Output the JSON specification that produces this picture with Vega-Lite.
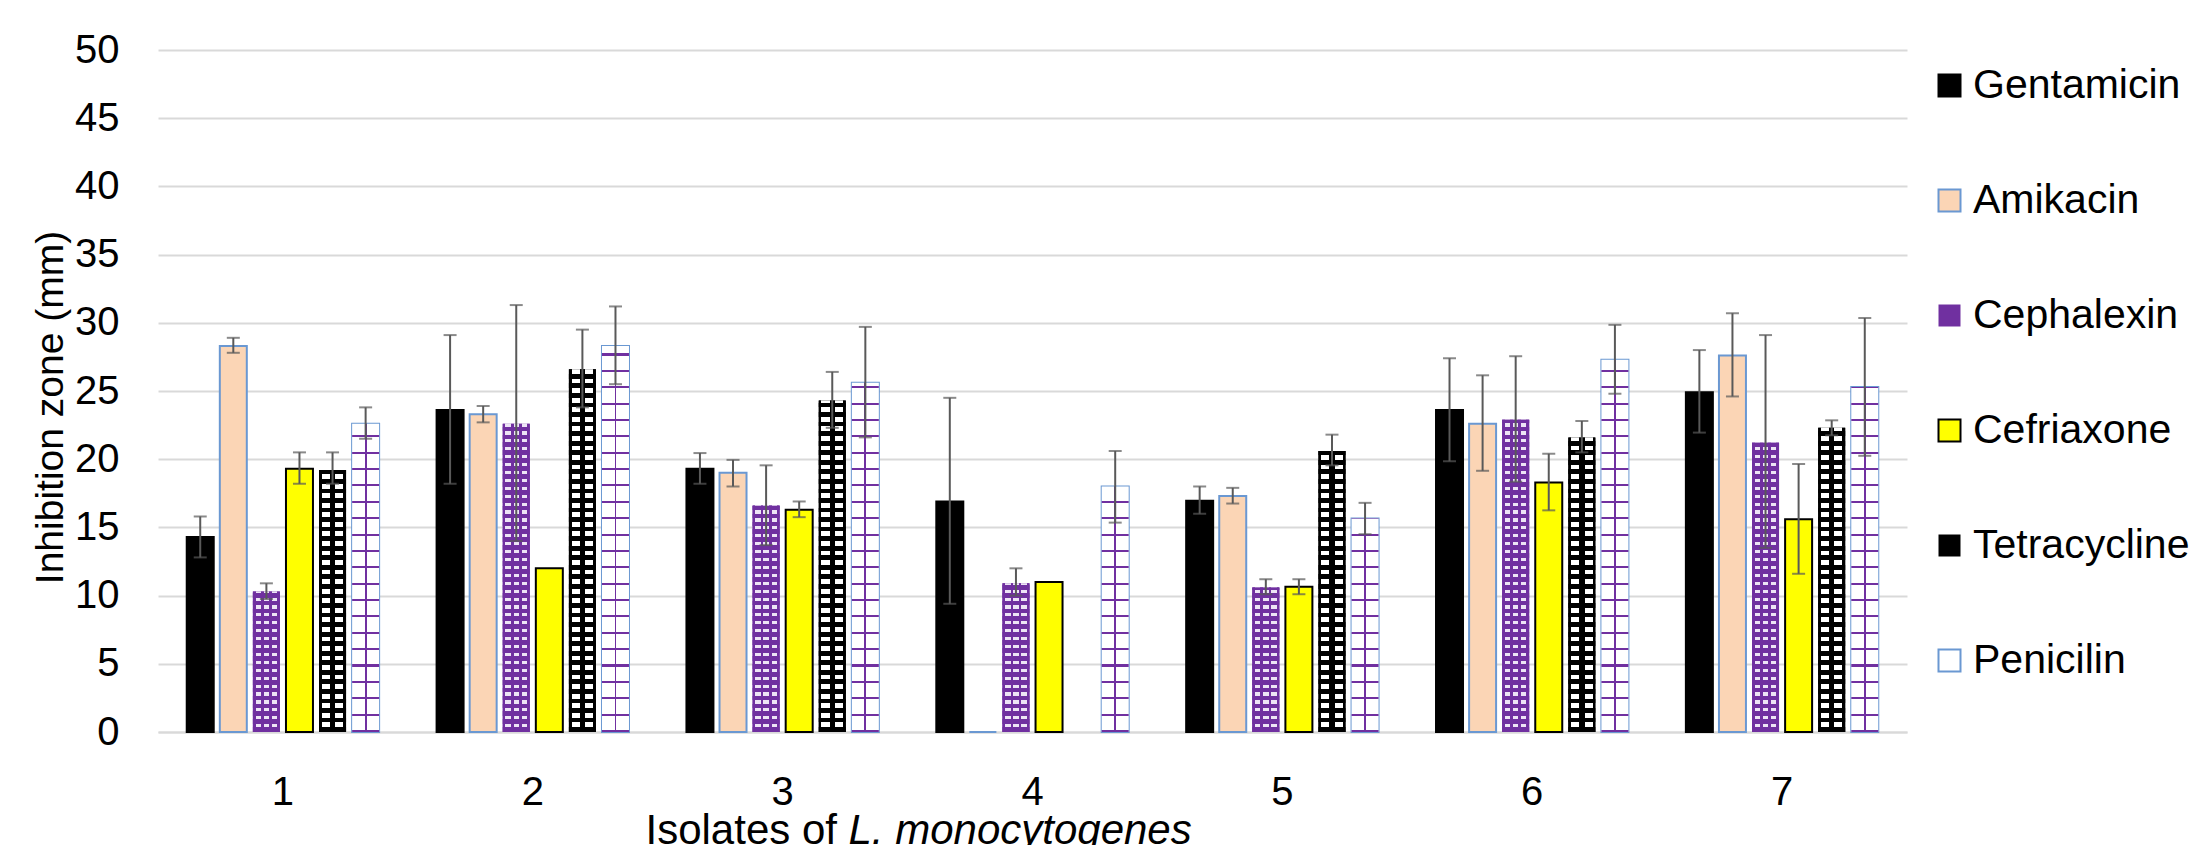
{
"$schema":"https://vega.github.io/schema/vega-lite/v6.json",
"width":1749,"height":682,
"autosize":{"type":"none"},
"padding":{"left":158,"top":50,"right":292,"bottom":113},
"background":"white",
"params":[
{"name":"cephX","value":[{"offset":0,"color":"#7030A0"},{"offset":0.1,"color":"#7030A0"},{"offset":0.1,"color":"#EDE4F5"},{"offset":0.3,"color":"#EDE4F5"},{"offset":0.3,"color":"#7030A0"},{"offset":0.4,"color":"#7030A0"},{"offset":0.4,"color":"#EDE4F5"},{"offset":0.6,"color":"#EDE4F5"},{"offset":0.6,"color":"#7030A0"},{"offset":0.7,"color":"#7030A0"},{"offset":0.7,"color":"#EDE4F5"},{"offset":0.9,"color":"#EDE4F5"},{"offset":0.9,"color":"#7030A0"},{"offset":1,"color":"#7030A0"}]},
{"name":"tetX","value":[{"offset":0,"color":"#000000"},{"offset":0.1,"color":"#000000"},{"offset":0.1,"color":"#FFFFFF"},{"offset":0.4,"color":"#FFFFFF"},{"offset":0.4,"color":"#000000"},{"offset":0.6,"color":"#000000"},{"offset":0.6,"color":"#FFFFFF"},{"offset":0.9,"color":"#FFFFFF"},{"offset":0.9,"color":"#000000"},{"offset":1,"color":"#000000"}]},
{"name":"penX","value":[{"offset":0,"color":"#FFFFFF"},{"offset":0.465,"color":"#FFFFFF"},{"offset":0.465,"color":"#7030A0"},{"offset":0.535,"color":"#7030A0"},{"offset":0.535,"color":"#FFFFFF"},{"offset":1,"color":"#FFFFFF"}]},
{"name":"cephStops","value":[
{"offset":0,"color":"#7030A0"},{"offset":0.015,"color":"#7030A0"},{"offset":0.015,"color":"rgba(112,48,160,0)"},{"offset":0.025,"color":"rgba(112,48,160,0)"},
{"offset":0.025,"color":"#7030A0"},{"offset":0.04,"color":"#7030A0"},{"offset":0.04,"color":"rgba(112,48,160,0)"},{"offset":0.05,"color":"rgba(112,48,160,0)"},
{"offset":0.05,"color":"#7030A0"},{"offset":0.065,"color":"#7030A0"},{"offset":0.065,"color":"rgba(112,48,160,0)"},{"offset":0.075,"color":"rgba(112,48,160,0)"},
{"offset":0.075,"color":"#7030A0"},{"offset":0.09,"color":"#7030A0"},{"offset":0.09,"color":"rgba(112,48,160,0)"},{"offset":0.1,"color":"rgba(112,48,160,0)"},
{"offset":0.1,"color":"#7030A0"},{"offset":0.115,"color":"#7030A0"},{"offset":0.115,"color":"rgba(112,48,160,0)"},{"offset":0.125,"color":"rgba(112,48,160,0)"},
{"offset":0.125,"color":"#7030A0"},{"offset":0.14,"color":"#7030A0"},{"offset":0.14,"color":"rgba(112,48,160,0)"},{"offset":0.15,"color":"rgba(112,48,160,0)"},
{"offset":0.15,"color":"#7030A0"},{"offset":0.165,"color":"#7030A0"},{"offset":0.165,"color":"rgba(112,48,160,0)"},{"offset":0.175,"color":"rgba(112,48,160,0)"},
{"offset":0.175,"color":"#7030A0"},{"offset":0.19,"color":"#7030A0"},{"offset":0.19,"color":"rgba(112,48,160,0)"},{"offset":0.2,"color":"rgba(112,48,160,0)"},
{"offset":0.2,"color":"#7030A0"},{"offset":0.215,"color":"#7030A0"},{"offset":0.215,"color":"rgba(112,48,160,0)"},{"offset":0.225,"color":"rgba(112,48,160,0)"},
{"offset":0.225,"color":"#7030A0"},{"offset":0.24,"color":"#7030A0"},{"offset":0.24,"color":"rgba(112,48,160,0)"},{"offset":0.25,"color":"rgba(112,48,160,0)"},
{"offset":0.25,"color":"#7030A0"},{"offset":0.265,"color":"#7030A0"},{"offset":0.265,"color":"rgba(112,48,160,0)"},{"offset":0.275,"color":"rgba(112,48,160,0)"},
{"offset":0.275,"color":"#7030A0"},{"offset":0.29,"color":"#7030A0"},{"offset":0.29,"color":"rgba(112,48,160,0)"},{"offset":0.3,"color":"rgba(112,48,160,0)"},
{"offset":0.3,"color":"#7030A0"},{"offset":0.315,"color":"#7030A0"},{"offset":0.315,"color":"rgba(112,48,160,0)"},{"offset":0.325,"color":"rgba(112,48,160,0)"},
{"offset":0.325,"color":"#7030A0"},{"offset":0.34,"color":"#7030A0"},{"offset":0.34,"color":"rgba(112,48,160,0)"},{"offset":0.35,"color":"rgba(112,48,160,0)"},
{"offset":0.35,"color":"#7030A0"},{"offset":0.365,"color":"#7030A0"},{"offset":0.365,"color":"rgba(112,48,160,0)"},{"offset":0.375,"color":"rgba(112,48,160,0)"},
{"offset":0.375,"color":"#7030A0"},{"offset":0.39,"color":"#7030A0"},{"offset":0.39,"color":"rgba(112,48,160,0)"},{"offset":0.4,"color":"rgba(112,48,160,0)"},
{"offset":0.4,"color":"#7030A0"},{"offset":0.415,"color":"#7030A0"},{"offset":0.415,"color":"rgba(112,48,160,0)"},{"offset":0.425,"color":"rgba(112,48,160,0)"},
{"offset":0.425,"color":"#7030A0"},{"offset":0.44,"color":"#7030A0"},{"offset":0.44,"color":"rgba(112,48,160,0)"},{"offset":0.45,"color":"rgba(112,48,160,0)"},
{"offset":0.45,"color":"#7030A0"},{"offset":0.465,"color":"#7030A0"},{"offset":0.465,"color":"rgba(112,48,160,0)"},{"offset":0.475,"color":"rgba(112,48,160,0)"},
{"offset":0.475,"color":"#7030A0"},{"offset":0.49,"color":"#7030A0"},{"offset":0.49,"color":"rgba(112,48,160,0)"},{"offset":0.5,"color":"rgba(112,48,160,0)"},
{"offset":0.5,"color":"#7030A0"},{"offset":0.515,"color":"#7030A0"},{"offset":0.515,"color":"rgba(112,48,160,0)"},{"offset":0.525,"color":"rgba(112,48,160,0)"},
{"offset":0.525,"color":"#7030A0"},{"offset":0.54,"color":"#7030A0"},{"offset":0.54,"color":"rgba(112,48,160,0)"},{"offset":0.55,"color":"rgba(112,48,160,0)"},
{"offset":0.55,"color":"#7030A0"},{"offset":0.565,"color":"#7030A0"},{"offset":0.565,"color":"rgba(112,48,160,0)"},{"offset":0.575,"color":"rgba(112,48,160,0)"},
{"offset":0.575,"color":"#7030A0"},{"offset":0.59,"color":"#7030A0"},{"offset":0.59,"color":"rgba(112,48,160,0)"},{"offset":0.6,"color":"rgba(112,48,160,0)"},
{"offset":0.6,"color":"#7030A0"},{"offset":0.615,"color":"#7030A0"},{"offset":0.615,"color":"rgba(112,48,160,0)"},{"offset":0.625,"color":"rgba(112,48,160,0)"},
{"offset":0.625,"color":"#7030A0"},{"offset":0.64,"color":"#7030A0"},{"offset":0.64,"color":"rgba(112,48,160,0)"},{"offset":0.65,"color":"rgba(112,48,160,0)"},
{"offset":0.65,"color":"#7030A0"},{"offset":0.665,"color":"#7030A0"},{"offset":0.665,"color":"rgba(112,48,160,0)"},{"offset":0.675,"color":"rgba(112,48,160,0)"},
{"offset":0.675,"color":"#7030A0"},{"offset":0.69,"color":"#7030A0"},{"offset":0.69,"color":"rgba(112,48,160,0)"},{"offset":0.7,"color":"rgba(112,48,160,0)"},
{"offset":0.7,"color":"#7030A0"},{"offset":0.715,"color":"#7030A0"},{"offset":0.715,"color":"rgba(112,48,160,0)"},{"offset":0.725,"color":"rgba(112,48,160,0)"},
{"offset":0.725,"color":"#7030A0"},{"offset":0.74,"color":"#7030A0"},{"offset":0.74,"color":"rgba(112,48,160,0)"},{"offset":0.75,"color":"rgba(112,48,160,0)"},
{"offset":0.75,"color":"#7030A0"},{"offset":0.765,"color":"#7030A0"},{"offset":0.765,"color":"rgba(112,48,160,0)"},{"offset":0.775,"color":"rgba(112,48,160,0)"},
{"offset":0.775,"color":"#7030A0"},{"offset":0.79,"color":"#7030A0"},{"offset":0.79,"color":"rgba(112,48,160,0)"},{"offset":0.8,"color":"rgba(112,48,160,0)"},
{"offset":0.8,"color":"#7030A0"},{"offset":0.815,"color":"#7030A0"},{"offset":0.815,"color":"rgba(112,48,160,0)"},{"offset":0.825,"color":"rgba(112,48,160,0)"},
{"offset":0.825,"color":"#7030A0"},{"offset":0.84,"color":"#7030A0"},{"offset":0.84,"color":"rgba(112,48,160,0)"},{"offset":0.85,"color":"rgba(112,48,160,0)"},
{"offset":0.85,"color":"#7030A0"},{"offset":0.865,"color":"#7030A0"},{"offset":0.865,"color":"rgba(112,48,160,0)"},{"offset":0.875,"color":"rgba(112,48,160,0)"},
{"offset":0.875,"color":"#7030A0"},{"offset":0.89,"color":"#7030A0"},{"offset":0.89,"color":"rgba(112,48,160,0)"},{"offset":0.9,"color":"rgba(112,48,160,0)"},
{"offset":0.9,"color":"#7030A0"},{"offset":0.915,"color":"#7030A0"},{"offset":0.915,"color":"rgba(112,48,160,0)"},{"offset":0.925,"color":"rgba(112,48,160,0)"},
{"offset":0.925,"color":"#7030A0"},{"offset":0.94,"color":"#7030A0"},{"offset":0.94,"color":"rgba(112,48,160,0)"},{"offset":0.95,"color":"rgba(112,48,160,0)"},
{"offset":0.95,"color":"#7030A0"},{"offset":0.965,"color":"#7030A0"},{"offset":0.965,"color":"rgba(112,48,160,0)"},{"offset":0.975,"color":"rgba(112,48,160,0)"},
{"offset":0.975,"color":"#7030A0"},{"offset":0.99,"color":"#7030A0"},{"offset":0.99,"color":"rgba(112,48,160,0)"},{"offset":1,"color":"rgba(112,48,160,0)"}
]},
{"name":"tetStops","value":[
{"offset":0,"color":"#000000"},{"offset":0.0125,"color":"#000000"},{"offset":0.0125,"color":"rgba(0,0,0,0)"},{"offset":0.025,"color":"rgba(0,0,0,0)"},
{"offset":0.025,"color":"#000000"},{"offset":0.0375,"color":"#000000"},{"offset":0.0375,"color":"rgba(0,0,0,0)"},{"offset":0.05,"color":"rgba(0,0,0,0)"},
{"offset":0.05,"color":"#000000"},{"offset":0.0625,"color":"#000000"},{"offset":0.0625,"color":"rgba(0,0,0,0)"},{"offset":0.075,"color":"rgba(0,0,0,0)"},
{"offset":0.075,"color":"#000000"},{"offset":0.0875,"color":"#000000"},{"offset":0.0875,"color":"rgba(0,0,0,0)"},{"offset":0.1,"color":"rgba(0,0,0,0)"},
{"offset":0.1,"color":"#000000"},{"offset":0.1125,"color":"#000000"},{"offset":0.1125,"color":"rgba(0,0,0,0)"},{"offset":0.125,"color":"rgba(0,0,0,0)"},
{"offset":0.125,"color":"#000000"},{"offset":0.1375,"color":"#000000"},{"offset":0.1375,"color":"rgba(0,0,0,0)"},{"offset":0.15,"color":"rgba(0,0,0,0)"},
{"offset":0.15,"color":"#000000"},{"offset":0.1625,"color":"#000000"},{"offset":0.1625,"color":"rgba(0,0,0,0)"},{"offset":0.175,"color":"rgba(0,0,0,0)"},
{"offset":0.175,"color":"#000000"},{"offset":0.1875,"color":"#000000"},{"offset":0.1875,"color":"rgba(0,0,0,0)"},{"offset":0.2,"color":"rgba(0,0,0,0)"},
{"offset":0.2,"color":"#000000"},{"offset":0.2125,"color":"#000000"},{"offset":0.2125,"color":"rgba(0,0,0,0)"},{"offset":0.225,"color":"rgba(0,0,0,0)"},
{"offset":0.225,"color":"#000000"},{"offset":0.2375,"color":"#000000"},{"offset":0.2375,"color":"rgba(0,0,0,0)"},{"offset":0.25,"color":"rgba(0,0,0,0)"},
{"offset":0.25,"color":"#000000"},{"offset":0.2625,"color":"#000000"},{"offset":0.2625,"color":"rgba(0,0,0,0)"},{"offset":0.275,"color":"rgba(0,0,0,0)"},
{"offset":0.275,"color":"#000000"},{"offset":0.2875,"color":"#000000"},{"offset":0.2875,"color":"rgba(0,0,0,0)"},{"offset":0.3,"color":"rgba(0,0,0,0)"},
{"offset":0.3,"color":"#000000"},{"offset":0.3125,"color":"#000000"},{"offset":0.3125,"color":"rgba(0,0,0,0)"},{"offset":0.325,"color":"rgba(0,0,0,0)"},
{"offset":0.325,"color":"#000000"},{"offset":0.3375,"color":"#000000"},{"offset":0.3375,"color":"rgba(0,0,0,0)"},{"offset":0.35,"color":"rgba(0,0,0,0)"},
{"offset":0.35,"color":"#000000"},{"offset":0.3625,"color":"#000000"},{"offset":0.3625,"color":"rgba(0,0,0,0)"},{"offset":0.375,"color":"rgba(0,0,0,0)"},
{"offset":0.375,"color":"#000000"},{"offset":0.3875,"color":"#000000"},{"offset":0.3875,"color":"rgba(0,0,0,0)"},{"offset":0.4,"color":"rgba(0,0,0,0)"},
{"offset":0.4,"color":"#000000"},{"offset":0.4125,"color":"#000000"},{"offset":0.4125,"color":"rgba(0,0,0,0)"},{"offset":0.425,"color":"rgba(0,0,0,0)"},
{"offset":0.425,"color":"#000000"},{"offset":0.4375,"color":"#000000"},{"offset":0.4375,"color":"rgba(0,0,0,0)"},{"offset":0.45,"color":"rgba(0,0,0,0)"},
{"offset":0.45,"color":"#000000"},{"offset":0.4625,"color":"#000000"},{"offset":0.4625,"color":"rgba(0,0,0,0)"},{"offset":0.475,"color":"rgba(0,0,0,0)"},
{"offset":0.475,"color":"#000000"},{"offset":0.4875,"color":"#000000"},{"offset":0.4875,"color":"rgba(0,0,0,0)"},{"offset":0.5,"color":"rgba(0,0,0,0)"},
{"offset":0.5,"color":"#000000"},{"offset":0.5125,"color":"#000000"},{"offset":0.5125,"color":"rgba(0,0,0,0)"},{"offset":0.525,"color":"rgba(0,0,0,0)"},
{"offset":0.525,"color":"#000000"},{"offset":0.5375,"color":"#000000"},{"offset":0.5375,"color":"rgba(0,0,0,0)"},{"offset":0.55,"color":"rgba(0,0,0,0)"},
{"offset":0.55,"color":"#000000"},{"offset":0.5625,"color":"#000000"},{"offset":0.5625,"color":"rgba(0,0,0,0)"},{"offset":0.575,"color":"rgba(0,0,0,0)"},
{"offset":0.575,"color":"#000000"},{"offset":0.5875,"color":"#000000"},{"offset":0.5875,"color":"rgba(0,0,0,0)"},{"offset":0.6,"color":"rgba(0,0,0,0)"},
{"offset":0.6,"color":"#000000"},{"offset":0.6125,"color":"#000000"},{"offset":0.6125,"color":"rgba(0,0,0,0)"},{"offset":0.625,"color":"rgba(0,0,0,0)"},
{"offset":0.625,"color":"#000000"},{"offset":0.6375,"color":"#000000"},{"offset":0.6375,"color":"rgba(0,0,0,0)"},{"offset":0.65,"color":"rgba(0,0,0,0)"},
{"offset":0.65,"color":"#000000"},{"offset":0.6625,"color":"#000000"},{"offset":0.6625,"color":"rgba(0,0,0,0)"},{"offset":0.675,"color":"rgba(0,0,0,0)"},
{"offset":0.675,"color":"#000000"},{"offset":0.6875,"color":"#000000"},{"offset":0.6875,"color":"rgba(0,0,0,0)"},{"offset":0.7,"color":"rgba(0,0,0,0)"},
{"offset":0.7,"color":"#000000"},{"offset":0.7125,"color":"#000000"},{"offset":0.7125,"color":"rgba(0,0,0,0)"},{"offset":0.725,"color":"rgba(0,0,0,0)"},
{"offset":0.725,"color":"#000000"},{"offset":0.7375,"color":"#000000"},{"offset":0.7375,"color":"rgba(0,0,0,0)"},{"offset":0.75,"color":"rgba(0,0,0,0)"},
{"offset":0.75,"color":"#000000"},{"offset":0.7625,"color":"#000000"},{"offset":0.7625,"color":"rgba(0,0,0,0)"},{"offset":0.775,"color":"rgba(0,0,0,0)"},
{"offset":0.775,"color":"#000000"},{"offset":0.7875,"color":"#000000"},{"offset":0.7875,"color":"rgba(0,0,0,0)"},{"offset":0.8,"color":"rgba(0,0,0,0)"},
{"offset":0.8,"color":"#000000"},{"offset":0.8125,"color":"#000000"},{"offset":0.8125,"color":"rgba(0,0,0,0)"},{"offset":0.825,"color":"rgba(0,0,0,0)"},
{"offset":0.825,"color":"#000000"},{"offset":0.8375,"color":"#000000"},{"offset":0.8375,"color":"rgba(0,0,0,0)"},{"offset":0.85,"color":"rgba(0,0,0,0)"},
{"offset":0.85,"color":"#000000"},{"offset":0.8625,"color":"#000000"},{"offset":0.8625,"color":"rgba(0,0,0,0)"},{"offset":0.875,"color":"rgba(0,0,0,0)"},
{"offset":0.875,"color":"#000000"},{"offset":0.8875,"color":"#000000"},{"offset":0.8875,"color":"rgba(0,0,0,0)"},{"offset":0.9,"color":"rgba(0,0,0,0)"},
{"offset":0.9,"color":"#000000"},{"offset":0.9125,"color":"#000000"},{"offset":0.9125,"color":"rgba(0,0,0,0)"},{"offset":0.925,"color":"rgba(0,0,0,0)"},
{"offset":0.925,"color":"#000000"},{"offset":0.9375,"color":"#000000"},{"offset":0.9375,"color":"rgba(0,0,0,0)"},{"offset":0.95,"color":"rgba(0,0,0,0)"},
{"offset":0.95,"color":"#000000"},{"offset":0.9625,"color":"#000000"},{"offset":0.9625,"color":"rgba(0,0,0,0)"},{"offset":0.975,"color":"rgba(0,0,0,0)"},
{"offset":0.975,"color":"#000000"},{"offset":0.9875,"color":"#000000"},{"offset":0.9875,"color":"rgba(0,0,0,0)"},{"offset":1,"color":"rgba(0,0,0,0)"}
]},
{"name":"penStops","value":[
{"offset":0,"color":"#7030A0"},{"offset":0.005,"color":"#7030A0"},{"offset":0.005,"color":"rgba(112,48,160,0)"},{"offset":0.04,"color":"rgba(112,48,160,0)"},
{"offset":0.04,"color":"#7030A0"},{"offset":0.045,"color":"#7030A0"},{"offset":0.045,"color":"rgba(112,48,160,0)"},{"offset":0.08,"color":"rgba(112,48,160,0)"},
{"offset":0.08,"color":"#7030A0"},{"offset":0.085,"color":"#7030A0"},{"offset":0.085,"color":"rgba(112,48,160,0)"},{"offset":0.12,"color":"rgba(112,48,160,0)"},
{"offset":0.12,"color":"#7030A0"},{"offset":0.125,"color":"#7030A0"},{"offset":0.125,"color":"rgba(112,48,160,0)"},{"offset":0.16,"color":"rgba(112,48,160,0)"},
{"offset":0.16,"color":"#7030A0"},{"offset":0.165,"color":"#7030A0"},{"offset":0.165,"color":"rgba(112,48,160,0)"},{"offset":0.2,"color":"rgba(112,48,160,0)"},
{"offset":0.2,"color":"#7030A0"},{"offset":0.205,"color":"#7030A0"},{"offset":0.205,"color":"rgba(112,48,160,0)"},{"offset":0.24,"color":"rgba(112,48,160,0)"},
{"offset":0.24,"color":"#7030A0"},{"offset":0.245,"color":"#7030A0"},{"offset":0.245,"color":"rgba(112,48,160,0)"},{"offset":0.28,"color":"rgba(112,48,160,0)"},
{"offset":0.28,"color":"#7030A0"},{"offset":0.285,"color":"#7030A0"},{"offset":0.285,"color":"rgba(112,48,160,0)"},{"offset":0.32,"color":"rgba(112,48,160,0)"},
{"offset":0.32,"color":"#7030A0"},{"offset":0.325,"color":"#7030A0"},{"offset":0.325,"color":"rgba(112,48,160,0)"},{"offset":0.36,"color":"rgba(112,48,160,0)"},
{"offset":0.36,"color":"#7030A0"},{"offset":0.365,"color":"#7030A0"},{"offset":0.365,"color":"rgba(112,48,160,0)"},{"offset":0.4,"color":"rgba(112,48,160,0)"},
{"offset":0.4,"color":"#7030A0"},{"offset":0.405,"color":"#7030A0"},{"offset":0.405,"color":"rgba(112,48,160,0)"},{"offset":0.44,"color":"rgba(112,48,160,0)"},
{"offset":0.44,"color":"#7030A0"},{"offset":0.445,"color":"#7030A0"},{"offset":0.445,"color":"rgba(112,48,160,0)"},{"offset":0.48,"color":"rgba(112,48,160,0)"},
{"offset":0.48,"color":"#7030A0"},{"offset":0.485,"color":"#7030A0"},{"offset":0.485,"color":"rgba(112,48,160,0)"},{"offset":0.52,"color":"rgba(112,48,160,0)"},
{"offset":0.52,"color":"#7030A0"},{"offset":0.525,"color":"#7030A0"},{"offset":0.525,"color":"rgba(112,48,160,0)"},{"offset":0.56,"color":"rgba(112,48,160,0)"},
{"offset":0.56,"color":"#7030A0"},{"offset":0.565,"color":"#7030A0"},{"offset":0.565,"color":"rgba(112,48,160,0)"},{"offset":0.6,"color":"rgba(112,48,160,0)"},
{"offset":0.6,"color":"#7030A0"},{"offset":0.605,"color":"#7030A0"},{"offset":0.605,"color":"rgba(112,48,160,0)"},{"offset":0.64,"color":"rgba(112,48,160,0)"},
{"offset":0.64,"color":"#7030A0"},{"offset":0.645,"color":"#7030A0"},{"offset":0.645,"color":"rgba(112,48,160,0)"},{"offset":0.68,"color":"rgba(112,48,160,0)"},
{"offset":0.68,"color":"#7030A0"},{"offset":0.685,"color":"#7030A0"},{"offset":0.685,"color":"rgba(112,48,160,0)"},{"offset":0.72,"color":"rgba(112,48,160,0)"},
{"offset":0.72,"color":"#7030A0"},{"offset":0.725,"color":"#7030A0"},{"offset":0.725,"color":"rgba(112,48,160,0)"},{"offset":0.76,"color":"rgba(112,48,160,0)"},
{"offset":0.76,"color":"#7030A0"},{"offset":0.765,"color":"#7030A0"},{"offset":0.765,"color":"rgba(112,48,160,0)"},{"offset":0.8,"color":"rgba(112,48,160,0)"},
{"offset":0.8,"color":"#7030A0"},{"offset":0.805,"color":"#7030A0"},{"offset":0.805,"color":"rgba(112,48,160,0)"},{"offset":0.84,"color":"rgba(112,48,160,0)"},
{"offset":0.84,"color":"#7030A0"},{"offset":0.845,"color":"#7030A0"},{"offset":0.845,"color":"rgba(112,48,160,0)"},{"offset":0.88,"color":"rgba(112,48,160,0)"},
{"offset":0.88,"color":"#7030A0"},{"offset":0.885,"color":"#7030A0"},{"offset":0.885,"color":"rgba(112,48,160,0)"},{"offset":0.92,"color":"rgba(112,48,160,0)"},
{"offset":0.92,"color":"#7030A0"},{"offset":0.925,"color":"#7030A0"},{"offset":0.925,"color":"rgba(112,48,160,0)"},{"offset":0.96,"color":"rgba(112,48,160,0)"},
{"offset":0.96,"color":"#7030A0"},{"offset":0.965,"color":"#7030A0"},{"offset":0.965,"color":"rgba(112,48,160,0)"},{"offset":1,"color":"rgba(112,48,160,0)"}
]}
],
"data":{"values":[
{"Isolate":"1","Antibiotic":"Gentamicin","value":14.3,"lo":12.8,"hi":15.8},
{"Isolate":"1","Antibiotic":"Amikacin","value":28.3,"lo":27.8,"hi":28.9},
{"Isolate":"1","Antibiotic":"Cephalexin","value":10.3,"lo":9.75,"hi":10.9},
{"Isolate":"1","Antibiotic":"Cefriaxone","value":19.3,"lo":18.2,"hi":20.5},
{"Isolate":"1","Antibiotic":"Tetracycline","value":19.2,"lo":18.2,"hi":20.5},
{"Isolate":"1","Antibiotic":"Penicilin","value":22.6,"lo":21.5,"hi":23.8},
{"Isolate":"2","Antibiotic":"Gentamicin","value":23.6,"lo":18.2,"hi":29.1},
{"Isolate":"2","Antibiotic":"Amikacin","value":23.3,"lo":22.7,"hi":23.9},
{"Isolate":"2","Antibiotic":"Cephalexin","value":22.6,"lo":14.0,"hi":31.3},
{"Isolate":"2","Antibiotic":"Cefriaxone","value":12.0,"lo":null,"hi":null},
{"Isolate":"2","Antibiotic":"Tetracycline","value":26.6,"lo":23.8,"hi":29.5},
{"Isolate":"2","Antibiotic":"Penicilin","value":28.3,"lo":25.5,"hi":31.2},
{"Isolate":"3","Antibiotic":"Gentamicin","value":19.3,"lo":18.2,"hi":20.45},
{"Isolate":"3","Antibiotic":"Amikacin","value":19.0,"lo":18.0,"hi":19.95},
{"Isolate":"3","Antibiotic":"Cephalexin","value":16.6,"lo":13.7,"hi":19.55},
{"Isolate":"3","Antibiotic":"Cefriaxone","value":16.3,"lo":15.75,"hi":16.9},
{"Isolate":"3","Antibiotic":"Tetracycline","value":24.3,"lo":22.3,"hi":26.4},
{"Isolate":"3","Antibiotic":"Penicilin","value":25.6,"lo":21.6,"hi":29.7},
{"Isolate":"4","Antibiotic":"Gentamicin","value":16.9,"lo":9.4,"hi":24.5},
{"Isolate":"4","Antibiotic":"Amikacin","value":0,"lo":null,"hi":null},
{"Isolate":"4","Antibiotic":"Cephalexin","value":10.9,"lo":10.0,"hi":12.0},
{"Isolate":"4","Antibiotic":"Cefriaxone","value":11.0,"lo":null,"hi":null},
{"Isolate":"4","Antibiotic":"Tetracycline","value":0,"lo":null,"hi":null},
{"Isolate":"4","Antibiotic":"Penicilin","value":18.0,"lo":15.35,"hi":20.6},
{"Isolate":"5","Antibiotic":"Gentamicin","value":16.95,"lo":16.0,"hi":18.0},
{"Isolate":"5","Antibiotic":"Amikacin","value":17.3,"lo":16.75,"hi":17.9},
{"Isolate":"5","Antibiotic":"Cephalexin","value":10.6,"lo":10.1,"hi":11.2},
{"Isolate":"5","Antibiotic":"Cefriaxone","value":10.65,"lo":10.1,"hi":11.2},
{"Isolate":"5","Antibiotic":"Tetracycline","value":20.6,"lo":19.55,"hi":21.8},
{"Isolate":"5","Antibiotic":"Penicilin","value":15.65,"lo":14.5,"hi":16.8},
{"Isolate":"6","Antibiotic":"Gentamicin","value":23.6,"lo":19.85,"hi":27.4},
{"Isolate":"6","Antibiotic":"Amikacin","value":22.6,"lo":19.15,"hi":26.15},
{"Isolate":"6","Antibiotic":"Cephalexin","value":22.9,"lo":18.35,"hi":27.55},
{"Isolate":"6","Antibiotic":"Cefriaxone","value":18.3,"lo":16.25,"hi":20.4},
{"Isolate":"6","Antibiotic":"Tetracycline","value":21.6,"lo":20.5,"hi":22.8},
{"Isolate":"6","Antibiotic":"Penicilin","value":27.3,"lo":24.8,"hi":29.85},
{"Isolate":"7","Antibiotic":"Gentamicin","value":24.9,"lo":21.95,"hi":28.0},
{"Isolate":"7","Antibiotic":"Amikacin","value":27.6,"lo":24.6,"hi":30.7},
{"Isolate":"7","Antibiotic":"Cephalexin","value":21.2,"lo":13.5,"hi":29.1},
{"Isolate":"7","Antibiotic":"Cefriaxone","value":15.6,"lo":11.6,"hi":19.65},
{"Isolate":"7","Antibiotic":"Tetracycline","value":22.3,"lo":21.75,"hi":22.85},
{"Isolate":"7","Antibiotic":"Penicilin","value":25.3,"lo":20.25,"hi":30.35}
]},
"resolve":{"axis":{"x":"independent"}},
"layer":[
{
"mark":{"type":"bar","strokeWidth":2},
"encoding":{
"x":{"field":"Isolate","type":"nominal","scale":{"paddingInner":0.23,"paddingOuter":0.115},
"axis":{"orient":"bottom","title":"Isolates of","labelAngle":0,"labelFontSize":40,"labelPadding":40,"ticks":false,"tickSize":0,"domainColor":"#D9D9D9","domainWidth":2,"grid":false,"titleFontSize":42,"titleX":487,"titleY":111,"titleAlign":"left","titleBaseline":"alphabetic","titleAnchor":"start"}},
"xOffset":{"field":"Antibiotic","type":"nominal","scale":{"domain":["Gentamicin","Amikacin","Cephalexin","Cefriaxone","Tetracycline","Penicilin"],"paddingInner":0.184,"paddingOuter":0}},
"y":{"field":"value","type":"quantitative","title":"Inhibition zone (mm)","scale":{"domain":[0,50],"nice":false}},
"fill":{"field":"Antibiotic","type":"nominal","title":null,"scale":{"domain":["Gentamicin","Amikacin","Cephalexin","Cefriaxone","Tetracycline","Penicilin"],"range":["#000000","#FBD5B5","#7030A0","#FFFF00","#000000","#FFFFFF"]}},
"stroke":{"field":"Antibiotic","type":"nominal","title":null,"scale":{"domain":["Gentamicin","Amikacin","Cephalexin","Cefriaxone","Tetracycline","Penicilin"],"range":["#000000","#6A98D2","transparent","#000000","transparent","#6A98D2"]}}
}
},
{
"transform":[{"filter":"(datum.Antibiotic==='Cephalexin'||datum.Antibiotic==='Tetracycline'||datum.Antibiotic==='Penicilin') && datum.value>0"}],
"mark":{"type":"bar","strokeWidth":0,"fill":{"expr":"datum.Antibiotic==='Cephalexin' ? {gradient:'linear',x1:0,y1:0,x2:1,y2:0,stops:cephX} : datum.Antibiotic==='Tetracycline' ? {gradient:'linear',x1:0,y1:0,x2:1,y2:0,stops:tetX} : {gradient:'linear',x1:0,y1:0,x2:1,y2:0,stops:penX}"}},
"encoding":{
"x":{"field":"Isolate","type":"nominal","axis":null},
"xOffset":{"field":"Antibiotic","type":"nominal","scale":{"domain":["Gentamicin","Amikacin","Cephalexin","Cefriaxone","Tetracycline","Penicilin"],"paddingInner":0.184,"paddingOuter":0}},
"y":{"field":"value","type":"quantitative","title":"Inhibition zone (mm)","scale":{"domain":[0,50],"nice":false}}
}
},
{
"transform":[{"filter":"(datum.Antibiotic==='Cephalexin'||datum.Antibiotic==='Tetracycline'||datum.Antibiotic==='Penicilin') && datum.value>0"}],
"mark":{"type":"bar","strokeWidth":0,"fill":{"expr":"datum.Antibiotic==='Cephalexin' ? {gradient:'linear',x1:0,y1:1,x2:0,y2:1-23.2/datum.value,stops:cephStops} : datum.Antibiotic==='Tetracycline' ? {gradient:'linear',x1:0,y1:1,x2:0,y2:1-28/datum.value,stops:tetStops} : {gradient:'linear',x1:0,y1:1,x2:0,y2:1-30/datum.value,stops:penStops}"}},
"encoding":{
"x":{"field":"Isolate","type":"nominal","axis":null},
"xOffset":{"field":"Antibiotic","type":"nominal","scale":{"domain":["Gentamicin","Amikacin","Cephalexin","Cefriaxone","Tetracycline","Penicilin"],"paddingInner":0.184,"paddingOuter":0}},
"y":{"field":"value","type":"quantitative","title":"Inhibition zone (mm)","scale":{"domain":[0,50],"nice":false}}
}
},
{
"mark":{"type":"rule","color":"#595959","strokeWidth":2},
"encoding":{
"x":{"field":"Isolate","type":"nominal","axis":null},
"xOffset":{"field":"Antibiotic","type":"nominal","scale":{"domain":["Gentamicin","Amikacin","Cephalexin","Cefriaxone","Tetracycline","Penicilin"],"paddingInner":0.184,"paddingOuter":0}},
"y":{"field":"lo","type":"quantitative","title":"Inhibition zone (mm)","scale":{"domain":[0,50],"nice":false}},
"y2":{"field":"hi"}
}
},
{
"mark":{"type":"tick","color":"#595959","thickness":2,"size":13},
"encoding":{
"x":{"field":"Isolate","type":"nominal","axis":null},
"xOffset":{"field":"Antibiotic","type":"nominal","scale":{"domain":["Gentamicin","Amikacin","Cephalexin","Cefriaxone","Tetracycline","Penicilin"],"paddingInner":0.184,"paddingOuter":0}},
"y":{"field":"lo","type":"quantitative","title":"Inhibition zone (mm)","scale":{"domain":[0,50],"nice":false}}
}
},
{
"mark":{"type":"tick","color":"#595959","thickness":2,"size":13},
"encoding":{
"x":{"field":"Isolate","type":"nominal","axis":{"orient":"bottom","labels":false,"ticks":false,"domain":false,"grid":false,"title":"L. monocytogenes","titleFontStyle":"italic","titleFontSize":42,"titleX":690,"titleY":111,"titleAlign":"left","titleBaseline":"alphabetic","titleAnchor":"start"}},
"xOffset":{"field":"Antibiotic","type":"nominal","scale":{"domain":["Gentamicin","Amikacin","Cephalexin","Cefriaxone","Tetracycline","Penicilin"],"paddingInner":0.184,"paddingOuter":0}},
"y":{"field":"hi","type":"quantitative","title":"Inhibition zone (mm)","scale":{"domain":[0,50],"nice":false}}
}
}
],
"config":{
"font":"Liberation Sans",
"view":{"stroke":null},
"axis":{"labelColor":"#000000","titleColor":"#000000","labelFont":"Liberation Sans","titleFont":"Liberation Sans","titleFontWeight":"normal"},
"axisY":{"grid":true,"gridColor":"#D9D9D9","gridWidth":2,"domain":false,"ticks":false,"tickSize":0,"tickCount":10,"labelPadding":39,"labelFontSize":40,"titleFontSize":39,"titlePadding":4,"titleY":357},
"legend":{"orient":"none","legendX":1771,"legendY":15,"symbolType":"square","symbolSize":484,"symbolStrokeWidth":2,"labelFontSize":41,"labelFont":"Liberation Sans","labelColor":"#000000","labelOffset":3,"rowPadding":73,"padding":0,"labelLimit":0}
}
}
